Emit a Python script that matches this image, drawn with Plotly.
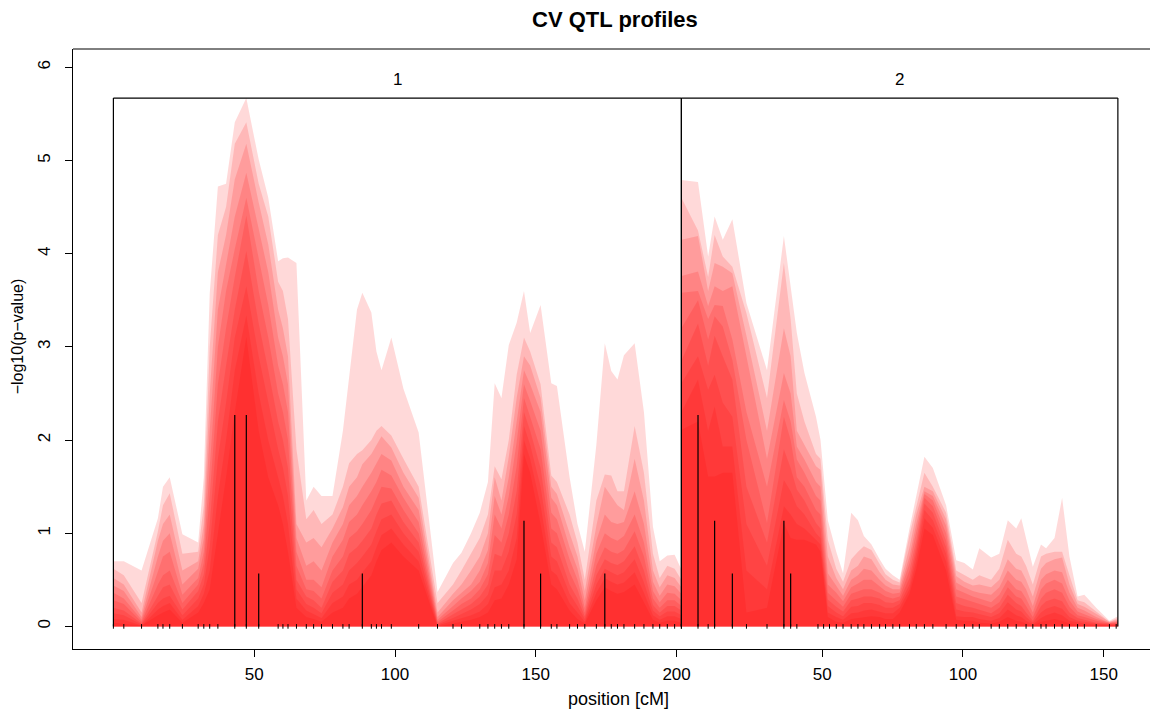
import plotly.graph_objects as go

# ---------------- data ----------------
chrom_names = ["1", "2"]
chrom_len = [201.7, 155.0]

chr1_pos = [0.0, 3.7, 10.0, 15.8, 17.6, 20.0, 24.5, 30.1, 32.1, 34.2,
            37.1, 40.0, 43.1, 47.2, 51.6, 55.0, 58.5, 60.2, 62.0, 65.0,
            68.5, 71.1, 73.9, 77.8, 81.5, 83.7, 86.5, 88.4, 91.6, 93.4,
            95.2, 98.7, 103.0, 108.4, 115.1, 120.6, 123.6, 127.0, 130.1, 133.0,
            135.4, 137.8, 140.4, 143.2, 145.8, 148.0, 151.7, 155.5, 157.5, 162.0,
            164.8, 167.4, 171.5, 174.5, 176.8, 179.0, 181.3, 185.1, 188.4, 191.6,
            194.0, 196.7, 199.3, 201.7]

# ten cross-validation profiles on chromosome 1 (-log10 p)
chr1_cv1 = [0.70, 0.70, 0.60, 1.16, 1.50, 1.60, 0.99, 0.90, 1.60, 3.57,
            4.72, 4.75, 5.41, 5.67, 5.01, 4.60, 3.92, 3.95, 3.96, 3.90,
            1.35, 1.50, 1.40, 1.40, 2.10, 2.70, 3.40, 3.58, 3.37, 2.95,
            2.75, 3.10, 2.55, 2.08, 0.37, 0.68, 0.79, 1.00, 1.22, 1.55,
            2.61, 2.45, 3.02, 3.26, 3.60, 3.15, 3.45, 2.61, 2.58, 1.60,
            1.10, 0.80, 1.95, 3.04, 2.74, 2.65, 2.91, 3.04, 2.30, 1.07,
            0.70, 0.76, 0.77, 0.61]
chr1_cv2 = [0.62, 0.55, 0.25, 1.02, 1.30, 1.43, 0.78, 0.80, 1.30, 3.00,
            4.20, 4.50, 5.18, 5.41, 4.75, 4.40, 3.70, 3.60, 3.30, 1.90,
            1.15, 1.25, 1.10, 1.20, 1.50, 1.75, 1.85, 1.89, 2.00, 2.10,
            2.15, 2.05, 1.80, 1.50, 0.25, 0.45, 0.60, 0.78, 0.95, 1.20,
            1.72, 1.58, 2.00, 2.70, 3.10, 2.95, 2.60, 1.62, 1.55, 1.20,
            0.90, 0.50, 1.35, 1.63, 1.62, 1.45, 1.45, 2.15, 1.65, 0.78,
            0.52, 0.65, 0.62, 0.50]
chr1_cv3 = [0.52, 0.45, 0.15, 0.92, 1.10, 1.20, 0.60, 0.70, 1.10, 2.50,
            3.80, 4.20, 4.80, 5.18, 4.55, 4.10, 3.40, 3.20, 2.90, 1.10,
            0.90, 0.95, 0.85, 1.05, 1.28, 1.50, 1.60, 1.74, 1.85, 1.95,
            2.04, 1.92, 1.65, 1.38, 0.15, 0.35, 0.45, 0.60, 0.75, 1.00,
            1.60, 1.35, 1.82, 2.45, 2.90, 2.80, 2.45, 1.50, 1.42, 1.00,
            0.75, 0.38, 1.08, 1.50, 1.40, 1.30, 1.25, 1.80, 1.35, 0.60,
            0.42, 0.55, 0.52, 0.42]
chr1_cv4 = [0.44, 0.38, 0.10, 0.75, 0.92, 1.00, 0.45, 0.62, 0.95, 2.10,
            3.40, 3.90, 4.40, 4.87, 4.25, 3.80, 3.10, 2.90, 2.60, 0.95,
            0.65, 0.70, 0.60, 0.90, 1.10, 1.30, 1.40, 1.50, 1.65, 1.75,
            1.85, 1.78, 1.50, 1.25, 0.10, 0.28, 0.36, 0.45, 0.60, 0.82,
            1.40, 1.20, 1.60, 2.20, 2.75, 2.60, 2.30, 1.38, 1.30, 0.85,
            0.62, 0.28, 0.92, 1.20, 1.12, 1.10, 1.12, 1.45, 1.10, 0.48,
            0.33, 0.45, 0.43, 0.35]
chr1_cv5 = [0.36, 0.30, 0.07, 0.60, 0.75, 0.80, 0.34, 0.52, 0.80, 1.70,
            3.00, 3.60, 4.05, 4.60, 3.95, 3.45, 2.80, 2.60, 2.30, 0.80,
            0.50, 0.50, 0.42, 0.75, 0.93, 1.12, 1.20, 1.30, 1.45, 1.55,
            1.68, 1.62, 1.38, 1.12, 0.07, 0.22, 0.30, 0.38, 0.48, 0.68,
            1.20, 1.05, 1.40, 1.98, 2.60, 2.42, 2.10, 1.22, 1.15, 0.72,
            0.50, 0.20, 0.78, 1.00, 0.95, 0.92, 0.97, 1.20, 0.90, 0.38,
            0.26, 0.36, 0.35, 0.28]
chr1_cv6 = [0.28, 0.24, 0.05, 0.45, 0.55, 0.60, 0.25, 0.45, 0.68, 1.40,
            2.60, 3.20, 3.75, 4.41, 3.60, 3.10, 2.50, 2.30, 2.00, 0.65,
            0.40, 0.38, 0.30, 0.60, 0.75, 0.95, 1.02, 1.10, 1.25, 1.38,
            1.50, 1.48, 1.25, 1.00, 0.05, 0.17, 0.24, 0.30, 0.40, 0.56,
            0.98, 0.90, 1.20, 1.72, 2.45, 2.25, 1.90, 1.05, 1.00, 0.58,
            0.40, 0.15, 0.65, 0.85, 0.80, 0.78, 0.82, 1.02, 0.75, 0.30,
            0.20, 0.28, 0.28, 0.22]
chr1_cv7 = [0.20, 0.17, 0.03, 0.33, 0.42, 0.45, 0.18, 0.38, 0.56, 1.10,
            2.20, 2.80, 3.40, 4.03, 3.25, 2.75, 2.20, 2.00, 1.70, 0.50,
            0.32, 0.28, 0.20, 0.48, 0.60, 0.78, 0.85, 0.92, 1.05, 1.20,
            1.32, 1.35, 1.12, 0.90, 0.03, 0.13, 0.18, 0.24, 0.32, 0.45,
            0.78, 0.75, 1.00, 1.45, 2.30, 2.10, 1.70, 0.90, 0.85, 0.45,
            0.30, 0.11, 0.55, 0.72, 0.68, 0.66, 0.70, 0.86, 0.60, 0.23,
            0.15, 0.22, 0.22, 0.17]
chr1_cv8 = [0.14, 0.12, 0.02, 0.25, 0.30, 0.33, 0.12, 0.30, 0.45, 0.85,
            1.80, 2.40, 3.10, 3.65, 2.90, 2.40, 1.90, 1.70, 1.40, 0.40,
            0.24, 0.20, 0.14, 0.36, 0.45, 0.60, 0.68, 0.75, 0.88, 1.02,
            1.15, 1.20, 1.00, 0.80, 0.02, 0.09, 0.13, 0.18, 0.24, 0.34,
            0.60, 0.60, 0.80, 1.20, 2.15, 1.95, 1.50, 0.75, 0.70, 0.35,
            0.22, 0.08, 0.45, 0.62, 0.58, 0.55, 0.58, 0.72, 0.47, 0.17,
            0.11, 0.16, 0.16, 0.12]
chr1_cv9 = [0.08, 0.07, 0.01, 0.18, 0.22, 0.25, 0.07, 0.22, 0.35, 0.60,
            1.40, 2.00, 2.75, 3.34, 2.50, 2.00, 1.60, 1.40, 1.10, 0.30,
            0.17, 0.13, 0.09, 0.25, 0.32, 0.45, 0.50, 0.58, 0.70, 0.85,
            0.98, 1.05, 0.88, 0.70, 0.01, 0.06, 0.09, 0.12, 0.16, 0.24,
            0.42, 0.45, 0.60, 0.95, 2.00, 1.80, 1.30, 0.60, 0.55, 0.25,
            0.15, 0.05, 0.36, 0.52, 0.48, 0.45, 0.47, 0.58, 0.36, 0.12,
            0.07, 0.11, 0.11, 0.08]
chr1_cv10 = [0.04, 0.03, 0.01, 0.12, 0.15, 0.18, 0.04, 0.15, 0.25, 0.40,
             1.00, 1.60, 2.30, 3.11, 2.10, 1.60, 1.30, 1.10, 0.80, 0.20,
             0.10, 0.08, 0.05, 0.15, 0.20, 0.30, 0.35, 0.42, 0.55, 0.70,
             0.82, 0.90, 0.75, 0.60, 0.00, 0.03, 0.05, 0.07, 0.10, 0.15,
             0.28, 0.30, 0.45, 0.72, 1.85, 1.65, 1.10, 0.45, 0.40, 0.17,
             0.08, 0.03, 0.28, 0.42, 0.38, 0.35, 0.37, 0.45, 0.26, 0.07,
             0.04, 0.06, 0.06, 0.04]

chr2_pos = [0.0, 5.9, 9.5, 11.8, 14.7, 18.1, 23.1, 30.4, 36.4, 38.8,
            41.0, 43.7, 47.8, 49.4, 52.0, 55.0, 57.4, 60.3, 62.7, 64.8,
            67.5, 70.4, 72.5, 75.1, 77.5, 81.0, 83.4, 86.3, 89.3, 94.0,
            97.6, 100.5, 103.5, 105.8, 110.0, 112.9, 115.9, 118.9, 120.7, 122.4,
            124.8, 127.7, 129.5, 132.5, 135.2, 137.8, 140.7, 143.1, 147.3, 152.0,
            155.0]

chr2_cv1 = [4.79, 4.77, 3.97, 4.40, 4.15, 4.37, 3.47, 2.75, 4.19, 3.65,
            3.15, 2.72, 2.25, 2.00, 1.14, 0.80, 0.57, 1.22, 1.14, 0.97,
            0.88, 0.72, 0.62, 0.55, 0.50, 1.05, 1.40, 1.82, 1.70, 1.30,
            0.71, 0.68, 0.61, 0.84, 0.74, 0.78, 1.14, 1.05, 1.16, 0.95,
            0.64, 0.88, 0.84, 0.95, 1.38, 0.75, 0.32, 0.34, 0.20, 0.06,
            0.11]
chr2_cv2 = [4.60, 4.25, 3.75, 4.20, 3.97, 3.86, 3.36, 2.45, 3.90, 3.30,
            2.50, 2.20, 1.85, 1.80, 0.93, 0.62, 0.48, 0.72, 0.80, 0.86,
            0.82, 0.66, 0.56, 0.50, 0.47, 0.98, 1.30, 1.65, 1.50, 1.22,
            0.60, 0.55, 0.50, 0.55, 0.50, 0.62, 0.93, 0.78, 0.75, 0.65,
            0.45, 0.75, 0.78, 0.80, 0.80, 0.55, 0.28, 0.26, 0.16, 0.05,
            0.09]
chr2_cv3 = [4.15, 4.19, 3.60, 3.90, 3.86, 3.79, 3.12, 2.10, 3.20, 2.90,
            2.10, 1.95, 1.72, 1.68, 0.75, 0.52, 0.40, 0.60, 0.65, 0.75,
            0.72, 0.58, 0.50, 0.45, 0.44, 0.85, 1.20, 1.50, 1.45, 1.15,
            0.54, 0.48, 0.44, 0.45, 0.42, 0.50, 0.72, 0.62, 0.60, 0.50,
            0.32, 0.62, 0.68, 0.72, 0.74, 0.45, 0.24, 0.21, 0.13, 0.05,
            0.07]
chr2_cv4 = [3.76, 3.81, 3.44, 3.65, 3.60, 3.65, 2.90, 1.80, 2.72, 2.50,
            1.93, 1.79, 1.55, 1.50, 0.57, 0.44, 0.33, 0.50, 0.55, 0.62,
            0.60, 0.50, 0.44, 0.40, 0.40, 0.75, 1.10, 1.45, 1.40, 1.08,
            0.47, 0.42, 0.38, 0.36, 0.34, 0.42, 0.60, 0.50, 0.48, 0.40,
            0.22, 0.50, 0.56, 0.60, 0.58, 0.36, 0.20, 0.17, 0.10, 0.04,
            0.06]
chr2_cv5 = [3.58, 3.60, 3.30, 3.45, 3.44, 3.08, 2.30, 1.50, 2.43, 2.20,
            1.79, 1.65, 1.40, 1.35, 0.45, 0.36, 0.27, 0.42, 0.46, 0.50,
            0.50, 0.43, 0.38, 0.35, 0.36, 0.68, 1.00, 1.42, 1.35, 1.00,
            0.40, 0.36, 0.32, 0.30, 0.26, 0.34, 0.50, 0.40, 0.38, 0.30,
            0.15, 0.40, 0.46, 0.50, 0.46, 0.28, 0.16, 0.13, 0.08, 0.04,
            0.05]
chr2_cv6 = [3.20, 3.50, 3.08, 3.33, 3.22, 2.86, 2.00, 1.11, 2.25, 2.00,
            1.60, 1.50, 1.25, 1.20, 0.36, 0.28, 0.21, 0.35, 0.38, 0.40,
            0.40, 0.36, 0.32, 0.30, 0.32, 0.60, 0.92, 1.38, 1.29, 0.92,
            0.32, 0.29, 0.26, 0.24, 0.20, 0.26, 0.42, 0.32, 0.30, 0.22,
            0.10, 0.30, 0.36, 0.40, 0.36, 0.21, 0.12, 0.10, 0.06, 0.03,
            0.04]
chr2_cv7 = [2.85, 3.25, 2.80, 3.12, 2.90, 2.65, 1.50, 0.90, 1.90, 1.70,
            1.47, 1.35, 1.11, 1.05, 0.29, 0.21, 0.16, 0.28, 0.30, 0.32,
            0.32, 0.30, 0.26, 0.25, 0.28, 0.52, 0.85, 1.32, 1.22, 0.85,
            0.25, 0.22, 0.20, 0.18, 0.14, 0.20, 0.34, 0.25, 0.22, 0.15,
            0.06, 0.22, 0.27, 0.30, 0.27, 0.15, 0.09, 0.07, 0.04, 0.03,
            0.03]
chr2_cv8 = [2.61, 2.90, 2.54, 2.70, 2.40, 2.25, 1.10, 0.65, 1.57, 1.45,
            1.29, 1.20, 1.00, 0.95, 0.22, 0.15, 0.11, 0.21, 0.22, 0.25,
            0.25, 0.23, 0.20, 0.20, 0.24, 0.45, 0.78, 1.25, 1.14, 0.78,
            0.18, 0.16, 0.15, 0.13, 0.10, 0.14, 0.26, 0.18, 0.16, 0.10,
            0.04, 0.15, 0.19, 0.22, 0.19, 0.10, 0.06, 0.05, 0.03, 0.02,
            0.02]
chr2_cv9 = [2.30, 2.65, 2.10, 2.36, 1.93, 1.93, 0.60, 0.40, 1.29, 1.20,
            1.10, 1.05, 0.93, 0.88, 0.15, 0.10, 0.07, 0.14, 0.15, 0.17,
            0.18, 0.16, 0.14, 0.14, 0.20, 0.40, 0.70, 1.16, 1.06, 0.70,
            0.11, 0.10, 0.10, 0.08, 0.06, 0.09, 0.18, 0.12, 0.10, 0.06,
            0.02, 0.09, 0.12, 0.15, 0.12, 0.06, 0.04, 0.03, 0.02, 0.02,
            0.02]
chr2_cv10 = [2.11, 2.20, 1.61, 1.61, 1.65, 1.65, 0.15, 0.20, 1.11, 0.95,
             0.93, 0.93, 0.88, 0.80, 0.10, 0.05, 0.04, 0.08, 0.09, 0.10,
             0.11, 0.10, 0.08, 0.08, 0.15, 0.35, 0.62, 1.05, 0.98, 0.60,
             0.07, 0.06, 0.06, 0.04, 0.03, 0.05, 0.10, 0.06, 0.05, 0.03,
             0.01, 0.05, 0.06, 0.08, 0.06, 0.03, 0.02, 0.01, 0.01, 0.01,
             0.01]

# marker positions (rug ticks)
chr1_markers = [0.0, 3.7, 10.0, 15.8, 17.6, 20.0, 24.5, 30.1, 32.1, 34.2, 37.1,
                43.1, 47.2, 51.6, 58.5, 60.2, 62.0, 65.0, 68.5, 71.1, 73.9, 77.8,
                81.5, 83.7, 88.4, 91.6, 93.4, 95.2, 98.7, 108.4, 115.1, 120.6,
                123.6, 130.1, 133.0, 135.4, 137.8, 140.4, 145.8, 151.7, 155.5,
                157.5, 162.0, 164.8, 167.4, 171.5, 174.5, 176.8, 179.0, 181.3,
                185.1, 188.4, 191.6, 194.0, 196.7, 199.3, 201.7]
chr2_markers = [0.0, 5.9, 9.5, 11.8, 18.1, 23.1, 30.4, 36.4, 38.8, 41.0, 48.5,
                50.5, 52.6, 55.0, 57.4, 60.3, 62.7, 64.8, 67.5, 70.4, 72.5, 75.1,
                77.5, 81.0, 83.4, 86.3, 89.3, 94.0, 97.6, 100.5, 103.5, 105.8,
                110.0, 112.9, 115.9, 118.9, 122.4, 124.8, 127.7, 129.5, 132.5,
                135.2, 137.8, 140.7, 143.1, 147.3, 152.0, 154.4]

# QTL positions selected in the CV folds and how many folds picked them
chr1_qtl_pos = [43.1, 47.2, 51.6, 88.4, 145.8, 151.7, 174.5]
chr1_qtl_cnt = [4, 4, 1, 1, 2, 1, 1]
chr2_qtl_pos = [5.9, 11.8, 18.1, 36.4, 38.8]
chr2_qtl_cnt = [4, 2, 1, 2, 1]
n_folds = 10

x_ticks_cM = [50, 100, 150, 200]

# ---------------- figure ----------------
chr_profiles = [
    (chr1_pos, [chr1_cv1, chr1_cv2, chr1_cv3, chr1_cv4, chr1_cv5,
                chr1_cv6, chr1_cv7, chr1_cv8, chr1_cv9, chr1_cv10]),
    (chr2_pos, [chr2_cv1, chr2_cv2, chr2_cv3, chr2_cv4, chr2_cv5,
                chr2_cv6, chr2_cv7, chr2_cv8, chr2_cv9, chr2_cv10]),
]
chr_markers = [chr1_markers, chr2_markers]
chr_qtl = [(chr1_qtl_pos, chr1_qtl_cnt), (chr2_qtl_pos, chr2_qtl_cnt)]

offsets = [0.0]
for L in chrom_len[:-1]:
    offsets.append(offsets[-1] + L)
total_len = sum(chrom_len)

ymax = max(max(p) for _, profs in chr_profiles for p in profs)

fig = go.Figure()

for ci, (pos, profs) in enumerate(chr_profiles):
    off = offsets[ci]
    xs = [off + p for p in pos]
    for prof in profs:
        assert len(prof) == len(pos), (ci, len(prof), len(pos))
        fig.add_trace(go.Scatter(
            x=xs, y=prof, mode="lines", fill="tozeroy",
            line=dict(width=0, color="rgba(255,0,0,0)"),
            fillcolor="rgba(255,0,0,0.15)",
            hoverinfo="skip", showlegend=False))

# QTL count bars
for ci, (qpos, qcnt) in enumerate(chr_qtl):
    off = offsets[ci]
    bx, by = [], []
    for p, c in zip(qpos, qcnt):
        bx += [off + p, off + p, None]
        by += [0, c / n_folds * ymax, None]
    fig.add_trace(go.Scatter(x=bx, y=by, mode="lines",
                             line=dict(color="black", width=1.2),
                             hoverinfo="skip", showlegend=False))

# marker rug
rug_h = 0.025
for ci, mk in enumerate(chr_markers):
    off = offsets[ci]
    rx, ry = [], []
    for m in mk:
        rx += [off + m, off + m, None]
        ry += [-rug_h, rug_h, None]
    fig.add_trace(go.Scatter(x=rx, y=ry, mode="lines",
                             line=dict(color="black", width=1),
                             hoverinfo="skip", showlegend=False))

# panel boxes (left, top, right) and strip labels
shapes = []
annotations = []
for ci, L in enumerate(chrom_len):
    x0 = offsets[ci]
    x1 = x0 + L
    for (ax0, ay0, ax1, ay1) in [(x0, 0, x0, ymax), (x0, ymax, x1, ymax), (x1, 0, x1, ymax)]:
        shapes.append(dict(type="line", xref="x", yref="y", x0=ax0, y0=ay0, x1=ax1, y1=ay1,
                           line=dict(color="black", width=1.2), layer="above"))
    annotations.append(dict(x=(x0 + x1) / 2, y=ymax * 1.035, xref="x", yref="y",
                            text=chrom_names[ci], showarrow=False,
                            font=dict(size=17, color="black"), yanchor="middle"))

# outer frame top line
shapes.append(dict(type="line", xref="paper", yref="paper", x0=0, y0=1, x1=1, y1=1,
                   line=dict(color="black", width=1)))

# titles
annotations.append(dict(x=0.503, y=1.049, xref="paper", yref="paper",
                        text="<b>CV QTL profiles</b>", showarrow=False,
                        font=dict(size=22, color="black"), yanchor="middle"))
annotations.append(dict(x=0.5068, y=-0.083, xref="paper", yref="paper",
                        text="position [cM]", showarrow=False,
                        font=dict(size=18, color="black"), yanchor="middle"))
annotations.append(dict(x=-0.0514, y=0.5205, xref="paper", yref="paper",
                        text="\u2212log10(p\u2212value)", showarrow=False, textangle=-90,
                        font=dict(size=16, color="black"), xanchor="center", yanchor="middle"))

tickvals, ticktext = [], []
for ci, L in enumerate(chrom_len):
    for t in x_ticks_cM:
        if t <= L:
            tickvals.append(offsets[ci] + t)
            ticktext.append(str(t))

px_per_cM = 2.816
plot_w = 1150 - 73
x_left = -0.04 * (total_len + 2.0)
x_right = x_left + plot_w / px_per_cM

fig.update_layout(
    width=1150, height=711,
    margin=dict(l=73, r=0, t=49, b=62),
    paper_bgcolor="white", plot_bgcolor="white",
    font=dict(family="Liberation Sans, Arial, Helvetica, sans-serif", color="black", size=16),
    shapes=shapes, annotations=annotations,
    xaxis=dict(range=[x_left, x_right], showgrid=False, zeroline=False,
               showline=True, linecolor="black", linewidth=1,
               ticks="outside", ticklen=7, tickcolor="black", tickwidth=1,
               tickvals=tickvals, ticktext=ticktext, tickfont=dict(size=17),
               ticklabelstandoff=3),
    yaxis=dict(range=[-0.2426, 6.197], showgrid=False, zeroline=False,
               showline=True, linecolor="black", linewidth=1,
               ticks="outside", ticklen=7, tickcolor="black", tickwidth=1,
               tickvals=[0, 1, 2, 3, 4, 5, 6], tickangle=-90, tickfont=dict(size=17),
               ticklabelstandoff=8),
)

fig.write_html("out.html", config={"displayModeBar": False, "staticPlot": True})

# remove the default page margin so the figure sits at the window's top-left corner
with open("out.html", "r", encoding="utf-8") as fh:
    html = fh.read()
html = html.replace("<head>", "<head><style>html,body{margin:0;padding:0;overflow:hidden;}</style>", 1)
with open("out.html", "w", encoding="utf-8") as fh:
    fh.write(html)
